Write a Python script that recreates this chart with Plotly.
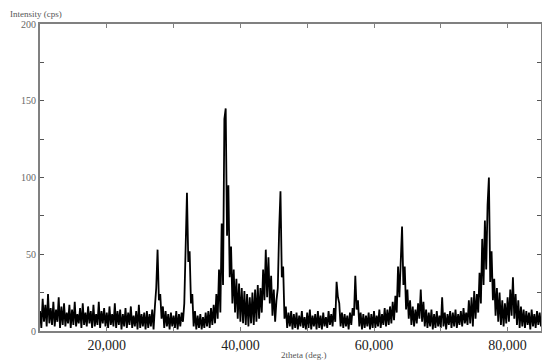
import plotly.graph_objects as go

# measured intensity (cps), 2theta grid from 10.0 to 85.0 deg in 0.2 deg steps
intensity = [
    13, 2, 21, 6, 17, 3, 24, 5, 15, 4,        # 10.0 - 11.8
    19, 3, 14, 6, 22, 2, 16, 4, 18, 3,        # 12.0 - 13.8
    12, 5, 17, 2, 14, 4, 19, 3, 11, 5,        # 14.0 - 15.8
    15, 2, 18, 4, 12, 3, 16, 5, 13, 2,        # 16.0 - 17.8
    17, 3, 11, 4, 19, 2, 13, 5, 15, 3,        # 18.0 - 19.8
    12, 2, 16, 4, 11, 3, 18, 2, 13, 4,        # 20.0 - 21.8
    14, 1, 11, 3, 15, 2, 12, 4, 16, 2,        # 22.0 - 23.8
    10, 3, 13, 1, 17, 2, 11, 3, 12, 1,        # 24.0 - 25.8
    13, 2, 11, 3, 14, 1, 16, 28, 53, 20,      # 26.0 - 27.8
    24, 8, 16, 2, 13, 3, 11, 1, 12, 3,        # 28.0 - 29.8
    10, 2, 13, 1, 11, 3, 12, 6, 18, 58,       # 30.0 - 31.8
    90, 45, 52, 18, 24, 3, 13, 1, 10, 2,      # 32.0 - 33.8
    11, 1, 9, 2, 12, 3, 13, 2, 15, 4,         # 34.0 - 35.8
    17, 5, 24, 8, 40, 12, 70, 30, 138, 145,   # 36.0 - 37.8
    62, 95, 35, 55, 18, 40, 12, 34, 8, 31,    # 38.0 - 39.8
    6, 28, 5, 26, 4, 24, 3, 22, 5, 25,        # 40.0 - 41.8
    4, 27, 6, 30, 8, 28, 12, 40, 20, 53,      # 42.0 - 43.8
    22, 48, 18, 36, 10, 27, 6, 20, 28, 66,    # 44.0 - 45.8
    91, 35, 42, 8, 16, 2, 12, 3, 13, 1,       # 46.0 - 47.8
    11, 2, 12, 1, 10, 3, 13, 2, 9, 1,         # 48.0 - 49.8
    12, 2, 14, 1, 10, 3, 11, 1, 13, 2,        # 50.0 - 51.8
    10, 1, 12, 3, 9, 2, 13, 4, 11, 3,         # 52.0 - 53.8
    15, 6, 32, 22, 18, 3, 12, 2, 11, 3,       # 54.0 - 55.8
    10, 1, 12, 4, 15, 10, 36, 14, 20, 3,      # 56.0 - 57.8
    12, 1, 11, 2, 10, 3, 12, 1, 11, 2,        # 58.0 - 59.8
    13, 2, 10, 3, 14, 2, 11, 4, 15, 3,        # 60.0 - 61.8
    14, 4, 16, 5, 19, 7, 23, 12, 42, 22,      # 62.0 - 63.8
    53, 68, 30, 42, 14, 27, 8, 20, 4, 16,     # 64.0 - 65.8
    3, 14, 5, 18, 8, 27, 6, 19, 3, 14,        # 66.0 - 67.8
    2, 12, 3, 14, 1, 11, 2, 13, 3, 10,        # 68.0 - 69.8
    2, 22, 3, 12, 1, 11, 4, 13, 2, 12,        # 70.0 - 71.8
    3, 14, 2, 11, 4, 13, 3, 15, 5, 12,        # 72.0 - 73.8
    4, 20, 5, 22, 3, 26, 8, 24, 12, 38,       # 74.0 - 75.8
    18, 60, 30, 72, 40, 82, 100, 32, 52, 20,  # 76.0 - 77.8
    34, 10, 28, 6, 25, 4, 20, 3, 18, 5,       # 78.0 - 79.8
    22, 6, 27, 10, 35, 8, 24, 4, 20, 2,       # 80.0 - 81.8
    16, 3, 14, 2, 13, 4, 12, 1, 14, 3,        # 82.0 - 83.8
    11, 2, 13, 4, 12, 3,                      # 84.0 - 85.0
]
two_theta = [round(10 + 0.2 * i, 1) for i in range(len(intensity))]

x_tickvals = [20, 30, 40, 50, 60, 70, 80]
x_ticktext = ["20,000", "", "40,000", "", "60,000", "", "80,000"]
y_tickvals = [0, 25, 50, 75, 100, 125, 150, 175, 200]
y_ticktext = ["0", "", "50", "", "100", "", "150", "", "200"]

fig = go.Figure()
fig.add_trace(go.Scatter(
    x=two_theta, y=intensity, mode="lines",
    line=dict(color="black", width=1.8),
    showlegend=False, hoverinfo="skip",
))

axis_col = "#808080"
# the page body has an 8px margin, so the figure is sized/offset to compensate
fig.update_layout(
    width=542, height=356,
    margin=dict(l=32, r=7, t=16, b=33),
    paper_bgcolor="white", plot_bgcolor="white",
    xaxis=dict(
        range=[10, 85], tickvals=x_tickvals, ticktext=x_ticktext,
        ticks="inside", ticklen=4, tickcolor=axis_col, tickwidth=1,
        showline=True, linecolor=axis_col, linewidth=2, mirror="ticks",
        showgrid=False, zeroline=False,
        tickfont=dict(family="Liberation Serif", size=14, color="#222222"),
    ),
    yaxis=dict(
        range=[0, 200], tickvals=y_tickvals, ticktext=y_ticktext,
        ticks="inside", ticklen=4, tickcolor="#555555", tickwidth=1,
        showline=True, linecolor=axis_col, linewidth=2, mirror="ticks",
        showgrid=False, zeroline=False,
        tickfont=dict(family="Liberation Serif", size=10, color="#666666"),
    ),
    annotations=[
        dict(text="Intensity (cps)", xref="paper", yref="paper",
             x=-0.063, y=1.01, xanchor="left", yanchor="bottom", showarrow=False,
             font=dict(family="Liberation Serif", size=9, color="#555555")),
        dict(text="2theta (deg.)", xref="paper", yref="paper",
             x=0.525, y=-0.055, xanchor="center", yanchor="top", showarrow=False,
             font=dict(family="Liberation Serif", size=9, color="#555555")),
    ],
)

fig.write_html("out.html")
